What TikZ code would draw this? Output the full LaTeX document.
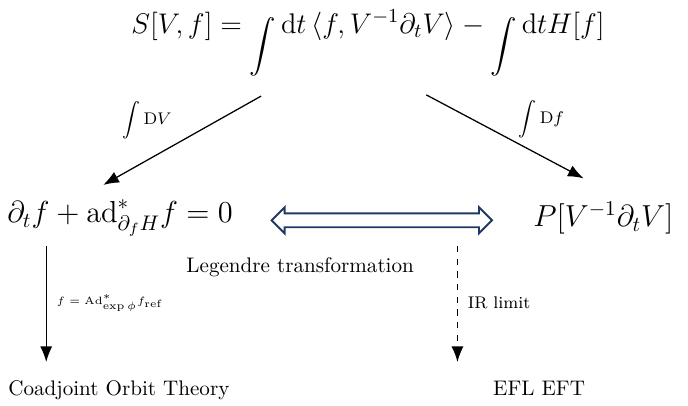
\documentclass[tikz,border=0pt]{standalone}
\usepackage{fix-cm}
\usepackage{amsmath}
\usetikzlibrary{arrows.meta,shapes.arrows}

\definecolor{legblue}{RGB}{31,56,100}
\newcommand{\lowint}{\mathop{\raisebox{-0.33cm}{\scalebox{0.87}{$\displaystyle\int$}}}}
\tikzstyle{txt} = [inner sep=1pt, anchor=center]
\tikzstyle{mth} = [inner sep=1pt, anchor=center, font=\fontsize{14.4}{17}\selectfont]
\tikzstyle{lbl} = [inner sep=1pt, anchor=west, font=\footnotesize]
\tikzstyle{flow} = [-{Latex[length=2.6mm,width=2mm]}, semithick]

\begin{document}
\begin{tikzpicture}
\useasboundingbox (0,0) rectangle (11.46,-6.75);
%top: action
\node[mth, anchor=base, font=\fontsize{13.45}{16}\selectfont] (S) at (6.13,-0.55) {$S[V,f]=\lowint \mathrm{d}t\,\langle f,V^{-1}\partial_tV\rangle-\lowint \mathrm{d}tH[f]$};
%middle row
\node[mth] (eom) at (2.0,-3.63) {$\partial_tf+\mathrm{ad}^*_{\partial_fH}f=0$};
\node[mth] (P) at (10.05,-3.63) {$P[V^{-1}\partial_tV]$};
\node[double arrow, draw=legblue, line width=0.9pt, minimum height=3.67cm, inner xsep=0pt, inner ysep=0.1cm, double arrow head extend=0.1cm] (leg) at (6.36,-3.67) {};
\node[txt] (legtxt) at (5.0,-4.45) {Legendre transformation};
%bottom row
\node[txt] (coad) at (1.98,-6.5) {Coadjoint Orbit Theory};
\node[txt] (efl) at (8.98,-6.47) {EFL EFT};
%connector ends
\coordinate (sL) at (4.35,-1.6);
\coordinate (eL) at (1.72,-3.08);
\coordinate (sR) at (7.1,-1.58);
\coordinate (eR) at (9.72,-2.97);
\coordinate (sD) at (0.77,-4.1);
\coordinate (eD) at (0.77,-6.03);
\coordinate (sI) at (7.62,-4.1);
\coordinate (eI) at (7.62,-6.03);
%arrows
\draw[flow] (sL) -- (eL);
\draw[flow] (sR) -- (eR);
\draw[flow] (sD) -- (eD);
\draw[flow, dashed] (sI) -- (eI);
%labels
\node[lbl] (intV) at (2.0,-2.0) {$\displaystyle\int \mathrm{D}V$};
\node[lbl] (intf) at (8.6,-1.98) {$\displaystyle\int \mathrm{D}f$};
\node[lbl, font=\fontsize{5}{6}\selectfont] (orbit) at (0.9,-5.05) {$f=\mathrm{Ad}^*_{\exp\phi}f_{\mathrm{ref}}$};
\node[lbl] (ir) at (7.75,-5.05) {IR limit};
\end{tikzpicture}
\end{document}
